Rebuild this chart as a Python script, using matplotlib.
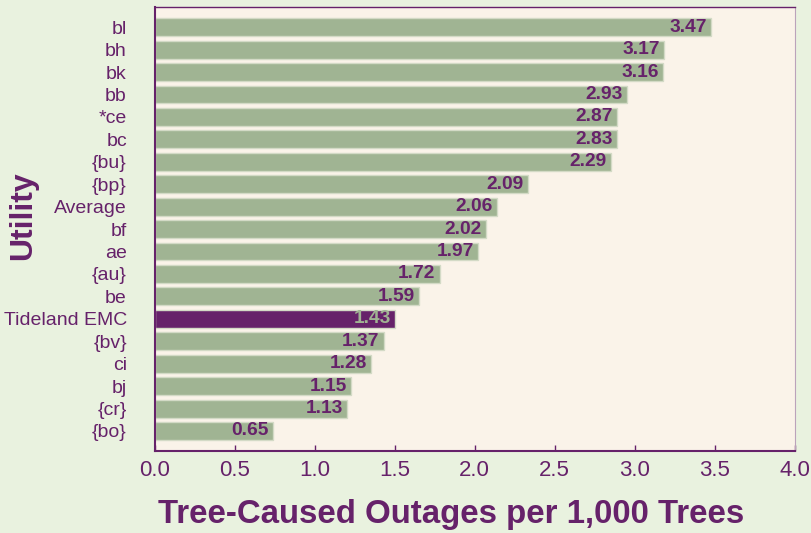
import matplotlib
matplotlib.use("Agg")
import matplotlib.pyplot as plt

utilities = ["bl", "bh", "bk", "bb", "*ce", "bc", "{bu}", "{bp}", "Average", "bf",
             "ae", "{au}", "be", "Tideland EMC", "{bv}", "ci", "bj", "{cr}", "{bo}"]
# bar lengths as drawn in the reference
bar_lengths = [3.475, 3.18, 3.175, 2.95, 2.89, 2.89, 2.85, 2.33, 2.14, 2.07,
               2.02, 1.78, 1.65, 1.50, 1.43, 1.35, 1.225, 1.205, 0.74]
# printed values
value_labels = ["3.47", "3.17", "3.16", "2.93", "2.87", "2.83", "2.29", "2.09", "2.06", "2.02",
                "1.97", "1.72", "1.59", "1.43", "1.37", "1.28", "1.15", "1.13", "0.65"]
highlight = "Tideland EMC"

purple = "#66226a"
sage = "#a0b493"
fig_bg = "#e9f2df"
ax_bg = "#faf3e9"

plt.rcParams["font.family"] = ["Liberation Sans", "DejaVu Sans"]

fig = plt.figure(figsize=(8.11, 5.33), dpi=100, facecolor=fig_bg)
ax = fig.add_axes([0.1907, 0.1544, 0.7893, 0.8316], facecolor=ax_bg)

ypos = list(range(len(utilities)))
colors = [purple if u == highlight else sage for u in utilities]
ax.barh(ypos, bar_lengths, height=0.8, color=colors, edgecolor="#d3dac6", linewidth=1)

for y, w, lab, u in zip(ypos, bar_lengths, value_labels, utilities):
    tc = sage if u == highlight else purple
    ax.text(w - 0.025, y, lab, ha="right", va="center", fontsize=13.8,
            fontweight="bold", color=tc)

ax.set_xlim(0, 4.0)
ax.set_ylim(len(utilities) - 1 + 0.88, -0.88)
ax.set_yticks(ypos)
ax.set_yticklabels(utilities, fontsize=14, color=purple)
ax.tick_params(axis="y", length=0, pad=20)
ax.set_xticks([0, 0.5, 1.0, 1.5, 2.0, 2.5, 3.0, 3.5, 4.0])
ax.set_xticklabels(["0.0", "0.5", "1.0", "1.5", "2.0", "2.5", "3.0", "3.5", "4.0"],
                   fontsize=16, color=purple)
ax.tick_params(axis="x", direction="in", length=4.5, width=1, color=purple, pad=7)

ax.spines["left"].set_color(purple)
ax.spines["left"].set_linewidth(1.5)
ax.spines["bottom"].set_color(purple)
ax.spines["bottom"].set_linewidth(1.5)
ax.spines["top"].set_color(purple)
ax.spines["top"].set_linewidth(1.0)
ax.spines["right"].set_color("#bba3bb")
ax.spines["right"].set_linewidth(0.8)

fig.text(451.5 / 811, 1 - 514 / 533, "Tree-Caused Outages per 1,000 Trees",
         ha="center", va="center", fontsize=23.8, fontweight="bold", color=purple)
fig.text(23 / 811, 1 - 216 / 533, "Utility", rotation=90, ha="center", va="center",
         fontsize=23, fontweight="bold", color=purple)

fig.savefig("out.png", dpi=100, facecolor=fig_bg)
